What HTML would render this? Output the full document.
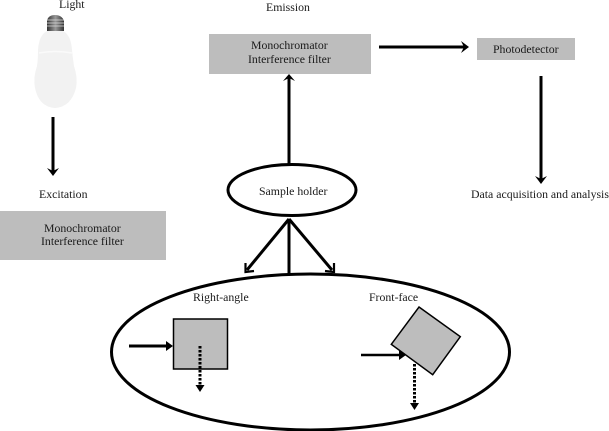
<!DOCTYPE html>
<html>
<head>
<meta charset="utf-8">
<style>
html,body{margin:0;padding:0;background:#fff;width:609px;height:431px;overflow:hidden}
svg{display:block}
text{font-family:"Liberation Serif",serif;font-size:11.8px;fill:#1a1a1a}
</style>
</head>
<body>
<svg width="609" height="431" viewBox="0 0 609 431" xmlns="http://www.w3.org/2000/svg">
<defs>
<linearGradient id="base" x1="0" x2="1" y1="0" y2="0">
<stop offset="0" stop-color="#333"/><stop offset=".5" stop-color="#999"/><stop offset="1" stop-color="#333"/>
</linearGradient>
</defs>
<!-- bulb -->
<path d="M47 31 L47 21 Q48 15 55 15 Q62 15 64 21 L64 31 Z" fill="url(#base)"/>
<path d="M47 20h17M47 23h17M47 26h17" stroke="#ddd" stroke-width=".7"/>
<path d="M47 31 L63 31 Q71 35 72 50 Q73 60 74 66 Q78 78 76 88 Q71 107 55 108 Q39 107 35 88 Q33 78 37 66 Q38 60 38 50 Q39 35 47 31 Z" fill="#f2f2f2"/>
<path d="M39 53 Q55 50 72 53" stroke="#fafafa" stroke-width="1.500" fill="none"/>
<!-- gray boxes -->
<rect x="0" y="211" width="166" height="49" fill="#bdbdbd"/>
<rect x="209" y="34" width="162" height="40" fill="#bdbdbd"/>
<rect x="477" y="38" width="98" height="22" fill="#bdbdbd"/>
<!-- main connectors -->
<g fill="none" stroke="#000" stroke-width="3">
<path d="M53 117V172"/>
<path d="M289 164V78"/>
<path d="M379 47H465"/>
<path d="M541 76V180"/>
<path d="M289 219L247 270"/>
<path d="M289 219L332 270"/>
<path d="M289 219V274"/>
</g>
<g fill="#000" stroke="none">
<path d="M47 168 L53 171 L59 168 L53 176 Z"/>
<path d="M283 81 L289 74 L295 81 L289 78 Z"/>
<path d="M461 41 L469 47 L461 53 L464 47 Z"/>
<path d="M535 176 L541 179 L547 176 L541 184 Z"/>
</g>
<g fill="none" stroke="#000" stroke-width="2.200">
<path d="M245.500 263 L245.500 272 L254 271"/>
<path d="M334 263 L334 272 L325 271"/>
</g>
<!-- ellipses -->
<ellipse cx="292" cy="190" rx="64" ry="25.500" fill="#fff" stroke="#000" stroke-width="3"/>
<ellipse cx="310.500" cy="352" rx="199" ry="78" fill="#fff" stroke="#000" stroke-width="3"/>
<!-- right-angle -->
<rect x="173.500" y="319" width="54" height="50" fill="#bdbdbd" stroke="#000" stroke-width="1.500"/>
<path d="M129 346H168" stroke="#000" stroke-width="3"/>
<path d="M166 341 L173 346 L166 351 Z" fill="#000"/>
<path d="M200 346V386" stroke="#000" stroke-width="3" stroke-dasharray="2.500 1.500"/>
<path d="M195.500 385 L200 392 L204.500 385 Z" fill="#000"/>
<!-- front-face -->
<path d="M419 307 L460.300 336.700 L432.700 374.700 L391.300 344.300 Z" fill="#bdbdbd" stroke="#000" stroke-width="1.500"/>
<path d="M361 355H401" stroke="#000" stroke-width="2.600"/>
<path d="M399 350 L406 355 L399 360 Z" fill="#000"/>
<path d="M414.500 364V404" stroke="#000" stroke-width="3" stroke-dasharray="2.500 1.500"/>
<path d="M410 403 L414.500 410 L419 403 Z" fill="#000"/>
<!-- labels -->
<text x="59" y="8">Light</text>
<text x="39" y="198">Excitation</text>
<text x="44" y="232">Monochromator</text>
<text x="41" y="245">Interference filter</text>
<text x="266" y="11">Emission</text>
<text x="251" y="49">Monochromator</text>
<text x="248" y="63">Interference filter</text>
<text x="493" y="53">Photodetector</text>
<text x="259" y="195">Sample holder</text>
<text x="471" y="198">Data acquisition and analysis</text>
<text x="193" y="301">Right-angle</text>
<text x="369" y="301">Front-face</text>
</svg>
</body>
</html>
